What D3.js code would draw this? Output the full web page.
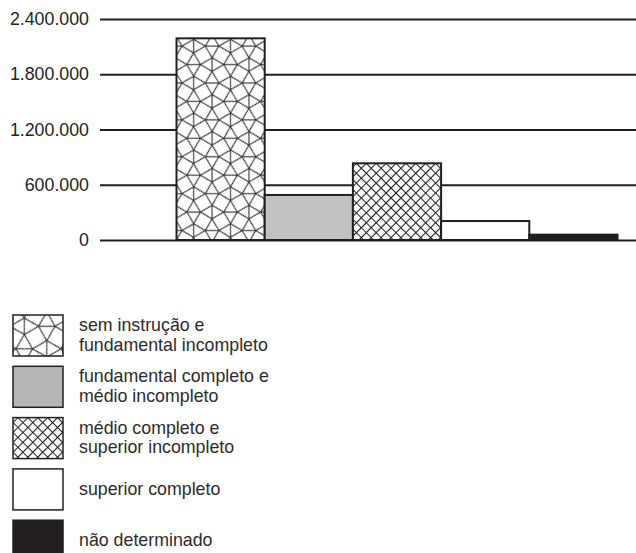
<!DOCTYPE html>
<html>
<head>
<meta charset="utf-8">
<script src="https://cdn.jsdelivr.net/npm/d3@7"></script>
<style>
    body { margin: 0; background: #fff; }
    svg { display: block; font-family: "Liberation Sans", Arial, sans-serif; }
</style>
</head>
<body>
<div id="chart"></div>
<script>
// Chart data
const categories = [
    'sem instrução e fundamental incompleto',
    'fundamental completo e médio incompleto',
    'médio completo e superior incompleto',
    'superior completo',
    'não determinado'
];
const values = [2190000, 489000, 833000, 206000, 58000];
const tickValues = [0, 600000, 1200000, 1800000, 2400000];
const legendLines = [
    ['sem instrução e', 'fundamental incompleto'],
    ['fundamental completo e', 'médio incompleto'],
    ['médio completo e', 'superior incompleto'],
    ['superior completo'],
    ['não determinado']
];

const width = 636;
const height = 553;
const ink = '#231f20';

const svg = d3.select('#chart').append('svg')
    .attr('width', width)
    .attr('height', height);

const defs = svg.append('defs');

// Snub square tiling (squares + triangles), edge length e
function snubPattern(id, e, angle) {
    const L = e * (1 + Math.sqrt(3)) / Math.SQRT2;
    const r = e / Math.SQRT2;
    const pts = [];
    for (let i = -1; i <= 2; i++) {
        for (let j = -1; j <= 2; j++) {
            [60, 150, 240, 330].forEach(a => {
                const t = a * Math.PI / 180;
                pts.push([i * L + r * Math.cos(t), j * L + r * Math.sin(t)]);
            });
        }
    }
    const p = defs.append('pattern')
        .attr('id', id)
        .attr('patternUnits', 'userSpaceOnUse')
        .attr('width', L)
        .attr('height', L)
        .attr('patternTransform', `rotate(${angle})`);
    p.append('rect').attr('width', L).attr('height', L).attr('fill', '#fff');
    const edges = [];
    for (let a = 0; a < pts.length; a++) {
        for (let b = a + 1; b < pts.length; b++) {
            const d = Math.hypot(pts[a][0] - pts[b][0], pts[a][1] - pts[b][1]);
            if (Math.abs(d - e) < e * 0.01) edges.push([pts[a], pts[b]]);
        }
    }
    p.selectAll('line').data(edges).join('line')
        .attr('x1', d => d[0][0]).attr('y1', d => d[0][1])
        .attr('x2', d => d[1][0]).attr('y2', d => d[1][1])
        .attr('stroke', ink)
        .attr('stroke-width', 1);
}

// Diagonal cross hatch
function hatchPattern(id, d) {
    const p = defs.append('pattern')
        .attr('id', id)
        .attr('patternUnits', 'userSpaceOnUse')
        .attr('width', d)
        .attr('height', d)
        .attr('patternTransform', 'rotate(45)');
    p.append('rect').attr('width', d).attr('height', d).attr('fill', '#fff');
    p.append('path')
        .attr('d', `M0,${d / 2}H${d}M${d / 2},0V${d}`)
        .attr('stroke', ink)
        .attr('stroke-width', 1.1);
}

snubPattern('snub-bar', 13.5, 45);
snubPattern('snub-legend', 16.5, 45);
hatchPattern('hatch-bar', 7);
hatchPattern('hatch-legend', 7);

const barFills = ['url(#snub-bar)', '#c2c2c2', 'url(#hatch-bar)', '#ffffff', ink];
const legendFills = ['url(#snub-legend)', '#b5b5b5', 'url(#hatch-legend)', '#ffffff', ink];

// Scales
const y = d3.scaleLinear().domain([0, 2400000]).range([240, 19]);
const x = d3.scaleBand().domain(categories).range([176.5, 617.5]).padding(0);

const fmt = d3.formatLocale({ decimal: ',', thousands: '.', grouping: [3], currency: ['R$', ''] }).format(',d');

// Grid lines + tick labels
const axis = svg.append('g')
    .attr('transform', 'translate(100,0)')
    .call(d3.axisLeft(y)
        .tickValues(tickValues)
        .tickSizeInner(-(width - 100))
        .tickSizeOuter(0)
        .tickPadding(11)
        .tickFormat(fmt));
axis.select('.domain').remove();
axis.selectAll('.tick line').attr('stroke', ink).attr('stroke-width', 2);
axis.selectAll('.tick text')
    .attr('fill', ink)
    .style('font-size', '17.8px')
    .style('font-family', '"Liberation Sans", Arial, sans-serif');

// Bars
svg.append('g').selectAll('rect')
    .data(values)
    .join('rect')
    .attr('x', (d, i) => x(categories[i]))
    .attr('y', d => y(d))
    .attr('width', x.bandwidth())
    .attr('height', d => y(0) - y(d))
    .attr('fill', (d, i) => barFills[i])
    .attr('stroke', ink)
    .attr('stroke-width', 2);

// Legend
const legend = svg.append('g').attr('transform', 'translate(13,315)');
const rowStep = 51.3;
const item = legend.selectAll('g')
    .data(categories)
    .join('g')
    .attr('transform', (d, i) => `translate(0,${i * rowStep})`);

item.append('rect')
    .attr('width', 50)
    .attr('height', 41)
    .attr('fill', (d, i) => legendFills[i])
    .attr('stroke', ink)
    .attr('stroke-width', 1.5);

item.append('text')
    .attr('fill', '#2b2b2b')
    .style('font-size', '17.8px')
    .each(function (d, i) {
        const lines = legendLines[i];
        const first = lines.length > 1 ? 16 : 26;
        d3.select(this).selectAll('tspan')
            .data(lines)
            .join('tspan')
            .attr('x', 66)
            .attr('y', (l, k) => first + k * 19.5)
            .text(l => l);
    });
</script>
</body>
</html>
